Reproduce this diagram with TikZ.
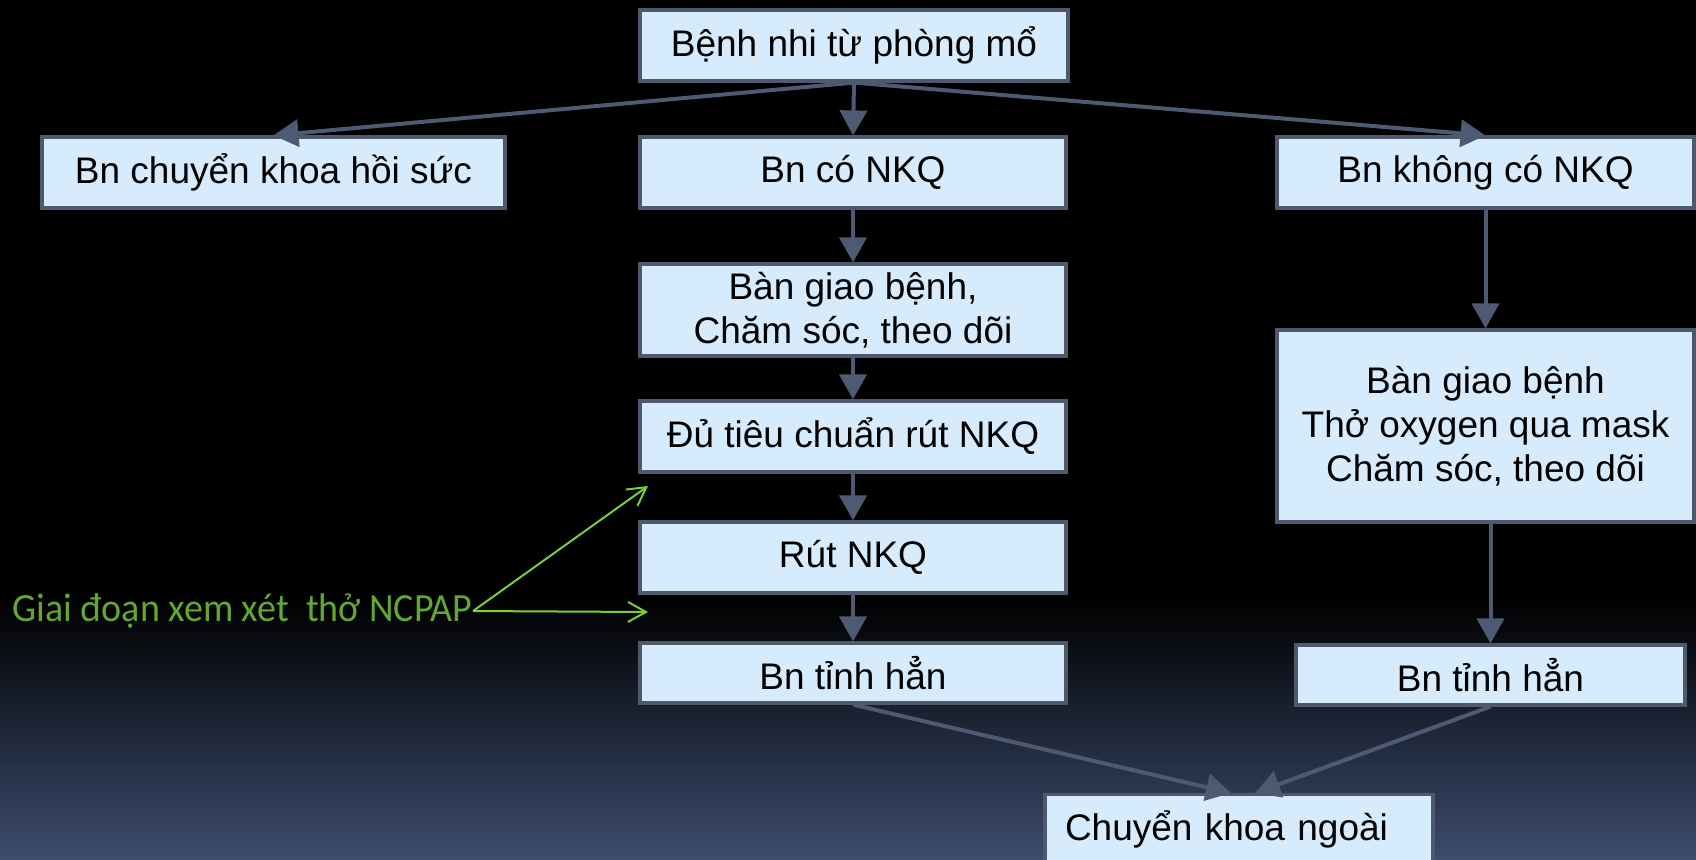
\documentclass[tikz,border=0pt]{standalone}
\usepackage{fontspec}
\setmainfont{Liberation Sans}
\newfontfamily\notefont[FakeStretch=0.95]{Carlito}
\usetikzlibrary{arrows.meta}
\definecolor{boxfill}{RGB}{214,235,252}
\definecolor{boxline}{RGB}{78,89,110}
\definecolor{flowline}{RGB}{78,90,114}
\definecolor{notetext}{RGB}{98,168,48}
\definecolor{notearrow}{RGB}{122,206,58}
\definecolor{bgblue}{RGB}{60,76,110}
\begin{document}
\begin{tikzpicture}[x=0.5pt,y=-0.5pt,
  box/.style={draw=boxline, line width=1.6pt, fill=boxfill, text=black,
    font=\fontsize{18.5}{22}\selectfont, align=center, inner sep=0pt,
    minimum height=35.5pt},
  flow/.style={draw=flowline, line width=2pt, -{Triangle[length=12.5pt,width=13.5pt]}},
  note/.style={draw=notearrow, line width=1pt, -{Straight Barb[length=9pt,width=10pt]}}]
% page and background
\clip (0,0) rectangle (1696,859);
\fill[black] (0,0) rectangle (1696,600);
\shade[top color=black, bottom color=bgblue] (0,599) rectangle (1696,859);

% boxes
\node[box, minimum width=214pt] (start) at (854,45.5) {Bệnh nhi từ phòng mổ};
\node[box, minimum width=231.5pt] (icu) at (273.5,172.5) {Bn chuyển khoa hồi sức};
\node[box, minimum width=213pt] (ett) at (853,172.5) {Bn có NKQ};
\node[box, minimum width=208.5pt] (noett) at (1485.5,172.5) {Bn không có NKQ};
\node[box, minimum width=213pt, minimum height=46pt] (care) at (853,310) {Bàn giao bệnh,\\Chăm sóc, theo dõi};
\node[box, minimum width=213pt] (crit) at (853,436.5) {Đủ tiêu chuẩn rút NKQ};
\node[box, minimum width=213pt] (ext) at (853,557.5) {Rút NKQ};
\node[box, minimum width=213pt, minimum height=30pt] (awake) at (853,673) {Bn tỉnh hẳn};
\node[box, minimum width=208.5pt, minimum height=96pt] (mask) at (1485.5,426) {Bàn giao bệnh\\Thở oxygen qua mask\\Chăm sóc, theo dõi};
\node[box, minimum width=194.5pt, minimum height=30pt] (awake2) at (1490.5,675) {Bn tỉnh hẳn};
\node[box, anchor=north, align=left, text width=174pt, inner xsep=10pt, minimum height=35pt] (surg) at (1239,793) {Chuyển khoa ngoài};

% flow connectors
\draw[flow] (start.south) -- (icu.north);
\draw[flow] (start.south) -- (ett.north);
\draw[flow] (start.south) -- (noett.north);
\draw[flow] (ett) -- (care);
\draw[flow] (care) -- (crit);
\draw[flow] (crit) -- (ext);
\draw[flow] (ext) -- (awake);
\draw[flow] (noett) -- (mask);
\draw[flow] ([xshift=2.5pt]mask.south) -- (awake2.north);
\draw[flow] (awake.south) -- ([xshift=-4pt]surg.north);
\draw[flow] (awake2.south) -- ([xshift=8pt]surg.north);

% NCPAP note
\node[anchor=east, inner sep=0pt, text=notetext,
  font=\notefont\fontsize{20}{22}\selectfont] (note) at (473,611) {Giai đoạn xem xét\ \ thở NCPAP};
\coordinate (nu) at (648,486);
\coordinate (nd) at (648,612);
\draw[note] (note.east) -- (nu);
\draw[note] (note.east) -- (nd);
\end{tikzpicture}
\end{document}
